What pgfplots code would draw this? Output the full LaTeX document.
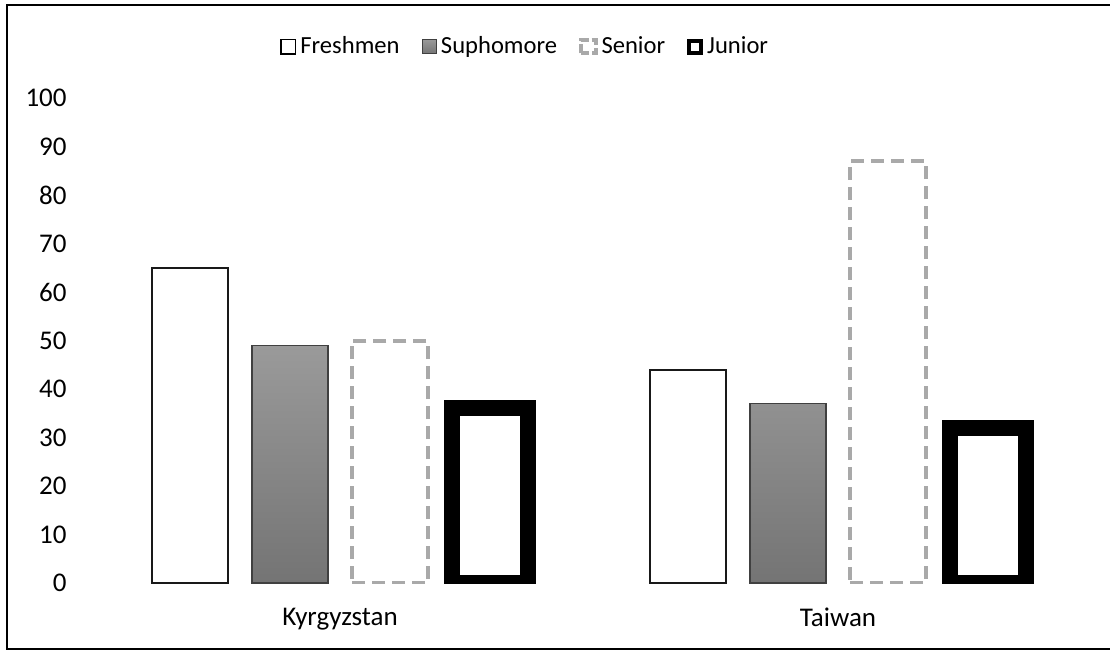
\documentclass[border=0pt]{standalone}
\usepackage{pgfplots}
\pgfplotsset{compat=1.18}
\usepackage{fontspec}
\setmainfont{Carlito}
\definecolor{sengray}{HTML}{A9A9A9}
\definecolor{suphtop}{HTML}{9A9A9A}
\definecolor{suphbot}{HTML}{747474}
\definecolor{suphedge}{HTML}{404040}
\begin{document}
\fontsize{12}{14.4}\selectfont
\begin{tikzpicture}
\useasboundingbox (0,0) rectangle (555pt,325pt);
\draw[line width=1pt, black] (3.5pt,0.5pt) rectangle (565pt,322.5pt);
\begin{axis}[
  at={(45.5pt,33.5pt)}, anchor=south west,
  scale only axis, width=498pt, height=242.5pt,
  xmin=-0.5, xmax=1.5, ymin=0, ymax=100,
  ybar, bar width=38pt,
  axis line style={draw=none}, tick style={draw=none},
  xtick={0,1}, xticklabels={Kyrgyzstan,Taiwan},
  ytick={0,10,...,100},
  /pgf/number format/assume math mode=true,
  yticklabel style={xshift=-8pt, font=\fontsize{13.5}{16}\selectfont},
  xticklabel style={yshift=-4pt, font=\fontsize{13.5}{16}\selectfont},
  legend columns=4,
  legend style={draw=none, fill=none, at={(rel axis cs:0.437,1.106)}, anchor=center,
    font=\fontsize{12.3}{14.4}\selectfont,
    /tikz/every even column/.append style={column sep=9pt},
    inner sep=0pt},
  legend cell align=left,
]
\addplot[bar shift=-75pt, draw=black!90, line width=1pt, fill=white,
  legend image code/.code={\draw[black, line width=0.8pt, fill=white] (0pt,-3.6pt) rectangle (7.2pt,3.6pt);}]
  coordinates {(0,65) (1,44)};
\addlegendentry{Freshmen}
\addplot[bar shift=-25pt, draw=suphedge, line width=0.6pt, top color=suphtop, bottom color=suphbot,
  legend image code/.code={\draw[suphedge, line width=0.5pt, fill=suphtop!90!black] (0pt,-3.6pt) rectangle (7.2pt,3.6pt);}]
  coordinates {(0,49) (1,37)};
\addlegendentry{Suphomore}
\addplot[bar shift=25pt, draw=sengray, line width=2pt, dash pattern=on 6.5pt off 3.5pt, fill=white,
  legend image code/.code={\draw[sengray, line width=2pt, dash pattern=on 4.5pt off 1.5pt, fill=white] (0pt,-3.4pt) rectangle (7.2pt,3.4pt);}]
  coordinates {(0,50) (1,87)};
\addlegendentry{Senior}
\addplot[bar shift=75pt, draw=black, line width=8pt, fill=white,
  legend image code/.code={\draw[black, line width=2pt, fill=white] (0.6pt,-3pt) rectangle (6.6pt,3pt);}]
  coordinates {(0,36) (1,32)};
\addlegendentry{Junior}
\end{axis}
\end{tikzpicture}
\end{document}
